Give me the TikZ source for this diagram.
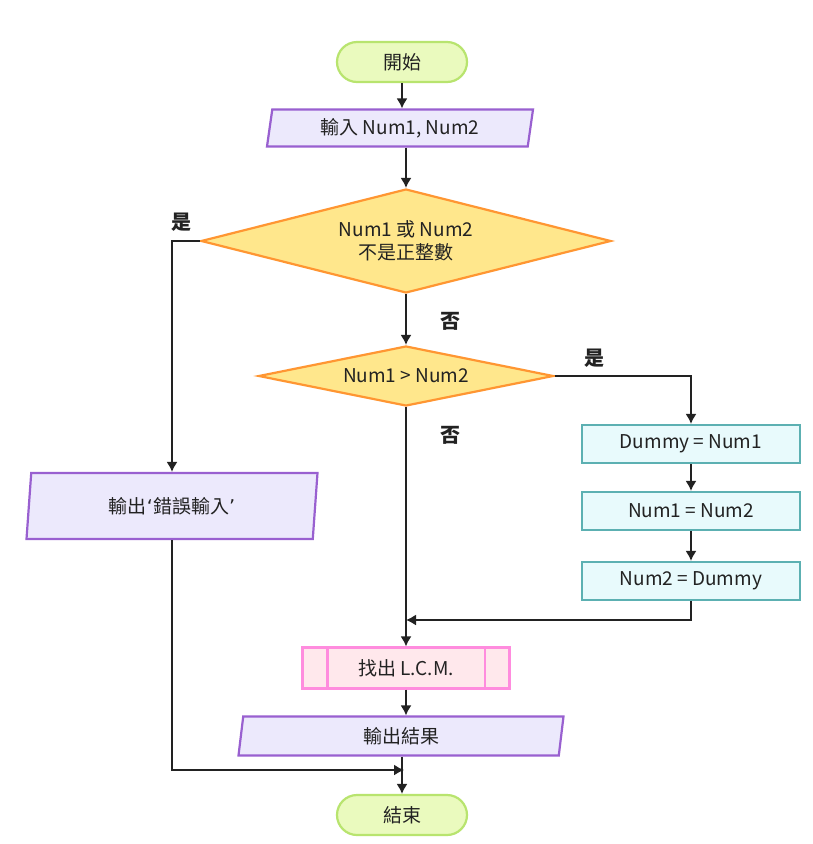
\documentclass[tikz,border=0pt]{standalone}
\usepackage{fontspec}
\setmainfont{Noto Sans CJK TC}
\newfontfamily\quoteFont{DejaVu Sans}
\usetikzlibrary{shapes.geometric, arrows.meta}
\definecolor{lineColor}{RGB}{34,34,34}
\definecolor{terminalFill}{RGB}{234,250,190}
\definecolor{terminalLine}{RGB}{184,228,110}
\definecolor{ioFill}{RGB}{236,233,252}
\definecolor{ioLine}{RGB}{153,96,208}
\definecolor{decisionFill}{RGB}{255,231,140}
\definecolor{decisionLine}{RGB}{255,150,50}
\definecolor{processFill}{RGB}{232,250,252}
\definecolor{processLine}{RGB}{92,176,178}
\definecolor{subFill}{RGB}{255,232,236}
\definecolor{subLine}{RGB}{255,140,222}
\tikzstyle{flowchart} = [x = 1pt, y = -1pt, every node/.style={font=\fontsize{19}{23}\selectfont, text=lineColor}]
\tikzstyle{terminalStyle} = [rectangle, rounded corners = 20pt, draw=terminalLine, fill=terminalFill, line width=2.2pt, minimum width=130pt, minimum height=40pt, inner sep=0pt]
\tikzstyle{ioStyle} = [trapezium, trapezium left angle=75, trapezium right angle=105, trapezium stretches body, draw=ioLine, fill=ioFill, line width=2.2pt, inner sep=0pt]
\tikzstyle{decisionStyle} = [diamond, shape aspect=4, draw=decisionLine, fill=decisionFill, line width=2.2pt, inner sep=0pt, align=center]
\tikzstyle{processStyle} = [rectangle, draw=processLine, fill=processFill, line width=2.2pt, minimum width=218pt, minimum height=38pt, inner sep=0pt]
\tikzstyle{subStyle} = [rectangle, draw=subLine, fill=subFill, line width=2.2pt, minimum width=207pt, minimum height=41pt, inner sep=0pt]
\tikzstyle{flowArrow} = [draw=lineColor, line width=1.5pt, -{Latex[length=10pt, width=11pt]}]
\tikzstyle{branchText} = [font=\fontsize{20}{24}\selectfont\bfseries]
\begin{document}
\begin{tikzpicture}[flowchart]
  \useasboundingbox [fill=white] (0,0) rectangle (813,844);
  \node [terminalStyle] (start) at (402,62) {開始};
  \node [ioStyle, minimum width=266pt, minimum height=37pt] (input) at (400,128) {輸入 Num1, Num2};
  \node [decisionStyle, minimum width=410pt, minimum height=104pt] (check) at (406,241) {Num1 或 Num2\\不是正整數};
  \node [decisionStyle, minimum width=295pt, minimum height=60pt] (compare) at (406,376) {Num1 > Num2};
  \node [processStyle] (dummy) at (691,444) {Dummy = Num1};
  \node [processStyle] (swapA) at (691,511) {Num1 = Num2};
  \node [processStyle] (swapB) at (691,581) {Num2 = Dummy};
  \node [ioStyle, minimum width=291pt, minimum height=66pt] (error) at (172,506) {輸出{\quoteFont‘}錯誤輸入{\quoteFont’}};
  \node [subStyle] (lcm) at (406,668) {找出 L.C.M.};
  \draw [draw=subLine, line width=2.2pt] ([xshift=26pt]lcm.north west) -- ([xshift=26pt]lcm.south west);
  \draw [draw=subLine, line width=2.2pt] ([xshift=-26pt]lcm.north east) -- ([xshift=-26pt]lcm.south east);
  \node [ioStyle, minimum width=325pt, minimum height=39pt] (output) at (401,736) {輸出結果};
  \node [terminalStyle] (stop) at (402,815) {結束};
  \node [branchText] (yesA) at (181,222) {是};
  \node [branchText] (noA) at (450,321) {否};
  \node [branchText] (yesB) at (594,358) {是};
  \node [branchText] (noB) at (450,435) {否};
  \coordinate (mergePt) at (406,620);
  \coordinate (joinPt) at (404,770);
  \draw [flowArrow] (start) -- (start |- input.north);
  \draw [flowArrow] (input.south -| check.north) -- (check.north);
  \draw [flowArrow] (check.west) -| (error.north);
  \draw [flowArrow] (check.south) -- (compare.north);
  \draw [flowArrow] (compare.east) -| (dummy.north);
  \draw [flowArrow] (dummy) -- (swapA);
  \draw [flowArrow] (swapA) -- (swapB);
  \draw [flowArrow] (compare.south) -- (lcm.north);
  \draw [flowArrow] (swapB.south) |- (mergePt);
  \draw [flowArrow] (lcm.south) -- (lcm.south |- output.north);
  \draw [flowArrow] (output.south -| stop.north) -- (stop.north);
  \draw [flowArrow] (error.south) |- (joinPt);
\end{tikzpicture}
\end{document}
